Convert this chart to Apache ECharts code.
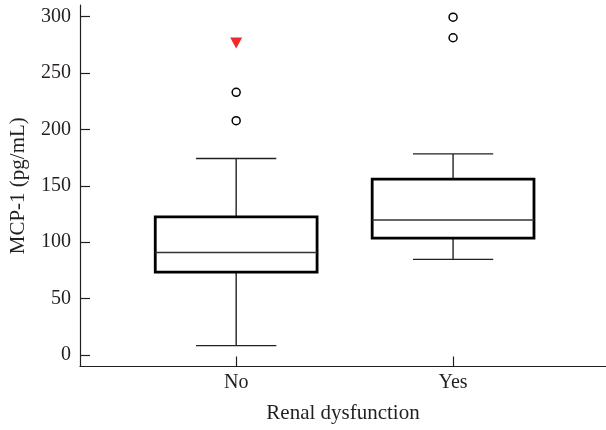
<!DOCTYPE html>
<html>
<head>
<meta charset="utf-8">
<script src="https://cdn.jsdelivr.net/npm/echarts@6/dist/echarts.min.js"></script>
<style>
html,body{margin:0;padding:0;background:#fff;}
#chart{width:606px;height:430px;}
</style>
</head>
<body>
<div id="chart"></div>
<script>
// ---- data ----
var categories = ['No', 'Yes'];
var lowerWhisker = [8.5, 84.8];
var q1 = [73.6, 103.7];
var median = [91.0, 119.6];
var q3 = [122.5, 155.8];
var upperWhisker = [174.1, 178.2];
var outlierGroup = [0, 0, 1, 1];
var outlierValue = [232.7, 207.6, 299.2, 281.0];
var flaggedGroup = [0];
var flaggedValue = [276.4];
var yTicks = [0, 50, 100, 150, 200, 250, 300];

// ---- build ----
var FONT = 'Liberation Serif';
var INK = '#231f20';
var boxData = categories.map(function (c, i) {
  return [i + 1, lowerWhisker[i], q1[i], median[i], q3[i], upperWhisker[i]];
});
var outData = outlierGroup.map(function (g, i) { return [g + 1, outlierValue[i]]; });
var flagData = flaggedGroup.map(function (g, i) { return [g + 1, flaggedValue[i]]; });
var catPos = categories.map(function (c, i) { return i + 1; });

var BOX_HALF = 0.373;
var CAP_HALF = 0.185;

function renderBox(params, api) {
  var x = api.value(0);
  var lo = api.coord([x, api.value(1)]);
  var b1 = api.coord([x, api.value(2)]);
  var md = api.coord([x, api.value(3)]);
  var b3 = api.coord([x, api.value(4)]);
  var hi = api.coord([x, api.value(5)]);
  var left = api.coord([x - BOX_HALF, 0])[0];
  var right = api.coord([x + BOX_HALF, 0])[0];
  var cl = api.coord([x - CAP_HALF, 0])[0];
  var cr = api.coord([x + CAP_HALF, 0])[0];
  var cx = lo[0];
  var thin = { stroke: '#222', lineWidth: 1.4 };
  return {
    type: 'group',
    children: [
      { type: 'line', shape: { x1: cx, y1: b3[1], x2: cx, y2: hi[1] }, style: thin },
      { type: 'line', shape: { x1: cx, y1: b1[1], x2: cx, y2: lo[1] }, style: thin },
      { type: 'line', shape: { x1: cl, y1: hi[1], x2: cr, y2: hi[1] }, style: thin },
      { type: 'line', shape: { x1: cl, y1: lo[1], x2: cr, y2: lo[1] }, style: thin },
      { type: 'rect', shape: { x: left, y: b3[1], width: right - left, height: b1[1] - b3[1] },
        style: { fill: '#fff', stroke: '#000', lineWidth: 2.8 } },
      { type: 'line', shape: { x1: left, y1: md[1], x2: right, y2: md[1] }, style: { stroke: '#333', lineWidth: 1.5 } }
    ]
  };
}

var chart = echarts.init(document.getElementById('chart'), null, { renderer: 'canvas' });
chart.setOption({
  backgroundColor: '#fff',
  animation: false,
  grid: { left: 79.5, right: 0, top: 5, bottom: 63.5, containLabel: false },
  xAxis: {
    type: 'value', min: 0.28, max: 2.705,
    name: 'Renal dysfunction', nameLocation: 'middle', nameGap: 36,
    nameTextStyle: { fontFamily: FONT, fontSize: 21, color: INK },
    axisLine: { show: true, onZero: false, lineStyle: { color: INK, width: 1.2 } },
    axisTick: { show: true, inside: true, length: 10, customValues: catPos, lineStyle: { color: INK, width: 1.2 } },
    axisLabel: { customValues: catPos, margin: 6, fontFamily: FONT, fontSize: 20, color: INK,
      formatter: function (v) { return categories[Math.round(v) - 1] || ''; } },
    splitLine: { show: false }
  },
  yAxis: {
    type: 'value', min: -10, max: 310,
    name: 'MCP-1 (pg/mL)', nameLocation: 'middle', nameGap: 51,
    nameTextStyle: { fontFamily: FONT, fontSize: 21, color: INK },
    axisLine: { show: true, onZero: false, lineStyle: { color: INK, width: 1.2 } },
    axisTick: { show: true, inside: true, length: 10, customValues: yTicks, lineStyle: { color: INK, width: 1.2 } },
    axisLabel: { customValues: yTicks, margin: 9, fontFamily: FONT, fontSize: 20, color: INK },
    splitLine: { show: false }
  },
  series: [
    { type: 'custom', renderItem: renderBox, data: boxData, encode: { x: 0, y: [1, 2, 3, 4, 5] }, z: 2 },
    { type: 'scatter', data: outData, symbol: 'circle', symbolSize: 8,
      itemStyle: { color: '#fff', borderColor: '#000', borderWidth: 1.5, opacity: 1 }, z: 3 },
    { type: 'scatter', data: flagData, symbol: 'path://M0,0 L12,0 L6,11 Z', symbolSize: [12, 11],
      itemStyle: { color: '#ee2a2a', opacity: 1 }, z: 3 }
  ]
});
</script>
</body>
</html>
